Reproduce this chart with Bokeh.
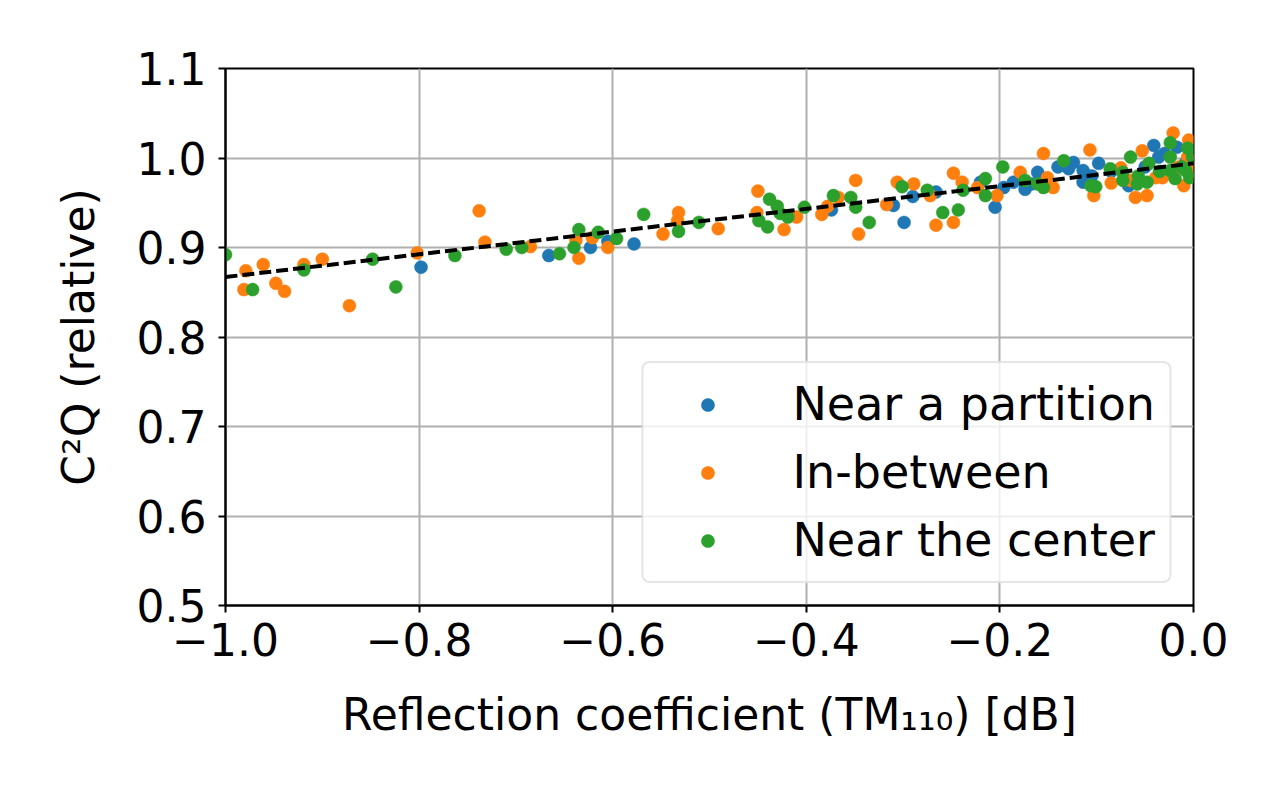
from bokeh.plotting import figure
from bokeh.models import (Range1d, FixedTicker, CustomJSTickFormatter, Legend, LegendItem)
from bokeh.embed import file_html
from bokeh.resources import INLINE

# ---- data ----
partition_x = [-0.798, -0.666, -0.623, -0.605, -0.578, -0.374, -0.310, -0.299, -0.290, -0.266,
               -0.220, -0.205, -0.196, -0.186, -0.174, -0.167, -0.161, -0.140, -0.129, -0.124,
               -0.114, -0.114, -0.105, -0.098, -0.085, -0.067, -0.050, -0.041, -0.036, -0.030,
               -0.017, -0.008]
partition_y = [0.878, 0.891, 0.900, 0.907, 0.904, 0.942, 0.947, 0.928, 0.957, 0.962,
               0.973, 0.945, 0.967, 0.973, 0.965, 0.971, 0.984, 0.990, 0.988, 0.995,
               0.986, 0.973, 0.980, 0.994, 0.985, 0.969, 0.990, 1.014, 1.001, 1.005,
               1.012, 0.995]

between_x = [-0.979, -0.981, -0.961, -0.948, -0.939, -0.919, -0.900, -0.872, -0.802, -0.738,
             -0.732, -0.685, -0.635, -0.638, -0.621, -0.605, -0.548, -0.532, -0.533, -0.491,
             -0.450, -0.451, -0.423, -0.410, -0.384, -0.378, -0.367, -0.349, -0.346, -0.317,
             -0.306, -0.289, -0.272, -0.266, -0.248, -0.248, -0.239, -0.223, -0.203, -0.179,
             -0.155, -0.151, -0.145, -0.107, -0.103, -0.085, -0.075, -0.065, -0.060, -0.053,
             -0.048, -0.039, -0.032, -0.021, -0.015, -0.010, -0.006, -0.005, -0.002]
between_y = [0.874, 0.853, 0.881, 0.860, 0.851, 0.881, 0.887, 0.835, 0.894, 0.941,
             0.906, 0.901, 0.888, 0.908, 0.911, 0.900, 0.915, 0.939, 0.930, 0.921,
             0.963, 0.939, 0.920, 0.934, 0.937, 0.946, 0.956, 0.975, 0.915, 0.948,
             0.973, 0.971, 0.958, 0.925, 0.928, 0.983, 0.973, 0.967, 0.958, 0.984,
             1.005, 0.978, 0.967, 1.009, 0.958, 0.972, 0.989, 0.975, 0.956, 1.008,
             0.958, 0.978, 0.978, 1.028, 0.990, 0.969, 1.001, 1.020, 0.985]

center_x = [-1.000, -0.972, -0.919, -0.848, -0.824, -0.763, -0.710, -0.694, -0.655, -0.635,
            -0.640, -0.615, -0.596, -0.568, -0.532, -0.511, -0.449, -0.438, -0.440, -0.430,
            -0.427, -0.419, -0.402, -0.372, -0.354, -0.349, -0.335, -0.301, -0.275, -0.259,
            -0.243, -0.238, -0.215, -0.215, -0.197, -0.174, -0.161, -0.155, -0.134, -0.106,
            -0.101, -0.086, -0.073, -0.073, -0.065, -0.057, -0.058, -0.048, -0.046, -0.035,
            -0.024, -0.024, -0.024, -0.019, -0.012, -0.006, -0.008, -0.004, -0.001]
center_y = [0.892, 0.853, 0.875, 0.887, 0.856, 0.891, 0.898, 0.900, 0.893, 0.920,
            0.900, 0.917, 0.910, 0.937, 0.918, 0.928, 0.930, 0.954, 0.923, 0.946,
            0.938, 0.934, 0.945, 0.958, 0.956, 0.945, 0.928, 0.968, 0.964, 0.939,
            0.942, 0.964, 0.977, 0.958, 0.990, 0.975, 0.971, 0.967, 0.997, 0.969,
            0.968, 0.988, 0.984, 0.975, 1.001, 0.980, 0.971, 0.973, 0.994, 0.985,
            1.017, 1.001, 0.986, 0.977, 0.990, 1.011, 0.986, 0.978, 1.001]

fit_slope = 0.127
fit_intercept = 0.994
fit_x = [-1.0, 0.0]
fit_y = [fit_intercept + fit_slope * v for v in fit_x]

series_names = ["Near a partition", "In-between", "Near the center"]
series_colors = ["#1f77b4", "#ff7f0e", "#2ca02c"]

x_ticks = [-1.0, -0.8, -0.6, -0.4, -0.2, 0.0]
y_ticks = [0.5, 0.6, 0.7, 0.8, 0.9, 1.0, 1.1]

FONT = "DejaVu Sans"

p = figure(width=1264, height=784, output_backend="svg", toolbar_location=None,
           x_range=Range1d(-1.0, 0.0), y_range=Range1d(0.5, 1.1),
           min_border_left=225, min_border_right=71, min_border_top=68, min_border_bottom=179)
p.outline_line_color = "black"
p.outline_line_width = 2
p.background_fill_color = "white"
p.border_fill_color = "white"

fmt = CustomJSTickFormatter(code="return tick.toFixed(1).replace('-', '\u2212');")
for ax, ticks in ((p.xaxis[0], x_ticks), (p.yaxis[0], y_ticks)):
    ax.ticker = FixedTicker(ticks=ticks)
    ax.formatter = fmt
    ax.major_label_text_font = FONT
    ax.major_label_text_font_size = "44px"
    ax.major_label_text_color = "black"
    ax.axis_label_text_font = FONT
    ax.axis_label_text_font_size = "44px"
    ax.axis_label_text_font_style = "normal"
    ax.axis_label_text_color = "black"
    ax.axis_line_color = "black"
    ax.axis_line_width = 2
    ax.major_tick_line_color = "black"
    ax.major_tick_line_width = 2
    ax.major_tick_out = 7
    ax.major_tick_in = 0
    ax.minor_tick_line_color = None

p.xaxis.axis_label = "Reflection coefficient (TM\u2081\u2081\u2080) [dB]"
p.yaxis.axis_label = "C\u00b2Q (relative)"
p.xaxis.major_label_standoff = 10
p.yaxis.major_label_standoff = 12
p.xaxis.axis_label_standoff = 30
p.yaxis.axis_label_standoff = 30

p.xgrid[0].ticker = FixedTicker(ticks=x_ticks)
p.ygrid[0].ticker = FixedTicker(ticks=y_ticks)
for g in (p.xgrid[0], p.ygrid[0]):
    g.grid_line_color = "#b0b0b0"
    g.grid_line_width = 2

renderers = []
for xs, ys, col in ((partition_x, partition_y, series_colors[0]),
                    (between_x, between_y, series_colors[1]),
                    (center_x, center_y, series_colors[2])):
    r = p.scatter(xs, ys, size=13, fill_color=col, line_color=col, line_width=0.5)
    renderers.append(r)

p.line(fit_x, fit_y, line_color="black", line_width=4, line_dash="12 5")

legend = Legend(items=[LegendItem(label=n, renderers=[r]) for n, r in zip(series_names, renderers)],
                location="bottom_right", margin=22, padding=14, spacing=14,
                glyph_width=100, glyph_height=33, label_height=52, label_standoff=35,
                label_text_font=FONT, label_text_font_size="46px", label_text_color="black",
                border_line_color="#cccccc", border_line_width=2,
                background_fill_color="white", background_fill_alpha=0.8)
if "border_radius" in Legend.properties():
    legend.border_radius = 8
p.add_layout(legend, "center")

open("out.html", "w").write(file_html(p, INLINE))
